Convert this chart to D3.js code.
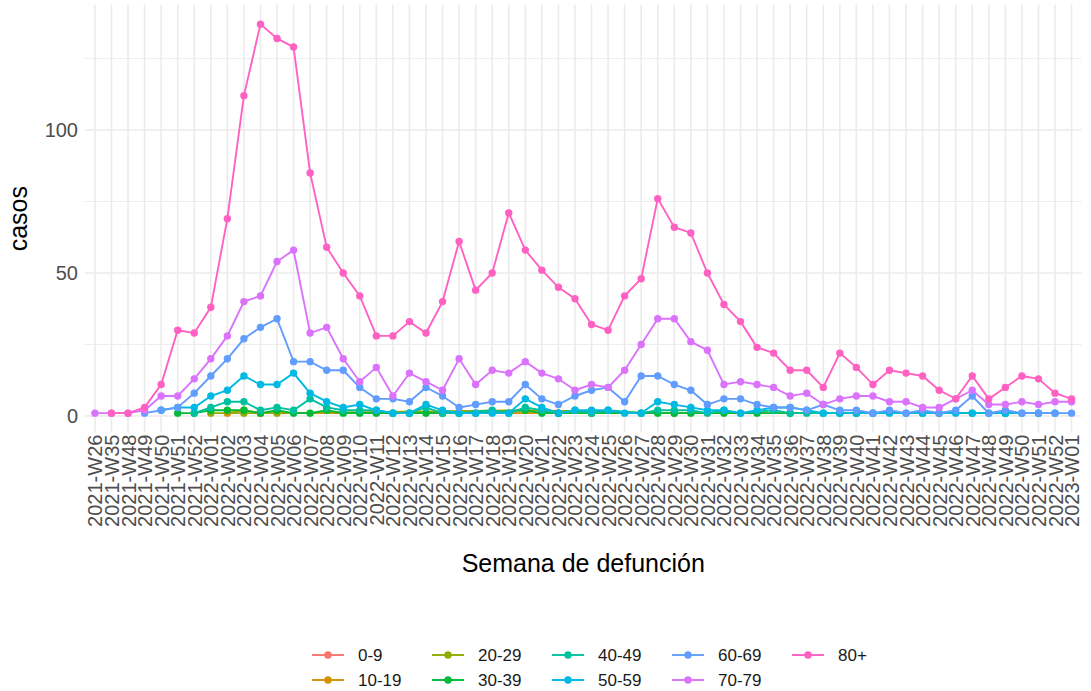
<!DOCTYPE html>
<html>
<head>
<meta charset="utf-8">
<script src="https://cdn.jsdelivr.net/npm/d3@7"></script>
<style>
body { margin: 0; background: #fff; }
svg { display: block; font-family: "Liberation Sans", Arial, sans-serif; }
</style>
</head>
<body>
<script>

// semanas (eje x)
var semanas = ["2021-W26","2021-W35","2021-W48","2021-W49","2021-W50","2021-W51","2021-W52",
	"2022-W01","2022-W02","2022-W03","2022-W04","2022-W05","2022-W06","2022-W07","2022-W08","2022-W09","2022-W10",
	"2022-W11","2022-W12","2022-W13","2022-W14","2022-W15","2022-W16","2022-W17","2022-W18","2022-W19","2022-W20",
	"2022-W21","2022-W22","2022-W23","2022-W24","2022-W25","2022-W26","2022-W27","2022-W28","2022-W29","2022-W30",
	"2022-W31","2022-W32","2022-W33","2022-W34","2022-W35","2022-W36","2022-W37","2022-W38","2022-W39","2022-W40",
	"2022-W41","2022-W42","2022-W43","2022-W44","2022-W45","2022-W46","2022-W47","2022-W48","2022-W49","2022-W50",
	"2022-W51","2022-W52","2023-W01"];

var grupos = ["0-9","10-19","20-29","30-39","40-49","50-59","60-69","70-79","80+"];
var colores = ["#F8766D","#D39200","#93AA00","#00BA38","#00C19F","#00B9E3","#619CFF","#DB72FB","#FF61C3"];

var yTicks = [0, 50, 100];
var yMinor = [25, 75, 125];

// casos por semana (null = sin dato)
var n = null;
var c0_9   = [n,n,n,n,n,n,n,n,n,n, 1,n,n,n,n,n,n,n,n,n, n,n,n,n,n,n,n,n,1,n, n,n,n,n,n,n,n,n,n,n, n,n,n,n,n,n,n,n,n,n, n,n,n,n,n,n,n,n,n,n];
var c10_19 = [n,n,n,n,n,n,n,n,1,2, 1,n,n,n,n,n,n,n,n,n, n,n,n,n,n,n,n,n,n,n, n,n,n,n,n,n,n,n,n,n, n,n,n,n,n,n,1,n,n,n, n,n,n,n,n,n,n,n,n,n];
var c20_29 = [n,n,n,n,n,n,n,1,n,1, n,1,n,n,n,n,n,n,n,n, n,n,n,n,n,n,2,n,n,n, n,n,n,n,n,1,n,n,n,n, n,n,n,n,n,n,n,n,n,n, n,n,n,n,n,n,n,n,n,n];
var c30_39 = [n,n,n,n,n,1,1,2,2,2, 1,2,1,1,2,1,1,1,1,1, 1,1,1,1,n,n,2,1,1,n, 1,n,n,1,1,1,1,n,1,n, 1,n,1,n,n,1,n,n,n,n, n,1,n,n,n,1,n,n,n,n];
var c40_49 = [n,n,n,n,n,n,1,3,5,5, 2,3,2,6,3,2,2,2,1,1, 3,1,1,n,2,1,3,2,1,2, 1,2,n,1,2,2,2,1,2,1, n,2,1,1,1,n,1,1,n,n, 1,n,n,1,n,1,n,1,n,n];
var c50_59 = [n,n,n,n,2,3,3,7,9,14, 11,11,15,8,5,3,4,2,1,1, 4,2,1,1,1,1,6,3,1,2, 2,2,1,1,5,4,3,2,2,1, 2,3,3,2,1,1,1,1,1,1, 1,1,1,1,1,1,1,1,1,n];
var c60_69 = [n,n,n,1,2,3,8,14,20,27, 31,34,19,19,16,16,10,6,6,5, 10,7,3,4,5,5,11,6,4,7, 9,10,5,14,14,11,9,4,6,6, 4,3,3,2,4,2,2,1,2,1, 2,1,2,7,1,2,1,1,1,1];
var c70_79 = [1,1,1,2,7,7,13,20,28,40, 42,54,58,29,31,20,12,17,7,15, 12,9,20,11,16,15,19,15,13,9, 11,10,16,25,34,34,26,23,11,12, 11,10,7,8,4,6,7,7,5,5, 3,3,6,9,4,4,5,4,5,5];
var c80    = [n,1,1,3,11,30,29,38,69,112, 137,132,129,85,59,50,42,28,28,33, 29,40,61,44,50,71,58,51,45,41, 32,30,42,48,76,66,64,50,39,33, 24,22,16,16,10,22,17,11,16,15, 14,9,6,14,6,10,14,13,8,6];

var valores = [c0_9, c10_19, c20_29, c30_39, c40_49, c50_59, c60_69, c70_79, c80];

window.onload = function() {
	Dibujar()
}

function Dibujar(){
	var W = 1091, H = 691;
	var left = 85, right = 1081.5, top = 4.7, bottom = 432.6;

	var series = grupos.map(function(g, k){
		var pts = [];
		valores[k].forEach(function(v, i){
			if (v !== null) pts.push({semana: semanas[i], casos: v});
		});
		return {grupo: g, color: colores[k], pts: pts};
	});

	var todos = [];
	valores.forEach(function(a){ a.forEach(function(v){ if (v !== null) todos.push(v) }) });
	var yMin = d3.min(todos), yMax = d3.max(todos);
	var pad = (yMax - yMin) * 0.05;

	var x = d3.scalePoint().domain(semanas).range([left, right]).padding(0.6);
	var y = d3.scaleLinear().domain([yMin - pad, yMax + pad]).range([bottom, top]);

	var svg = d3.select("body").append("svg")
		.attr("width", W)
		.attr("height", H);

	// rejilla
	var grid = svg.append("g");
	grid.selectAll("line.minor")
		.data(yMinor)
		.enter()
		.append("line")
		.attr("x1", left).attr("x2", right)
		.attr("y1", function(d){ return y(d) })
		.attr("y2", function(d){ return y(d) })
		.style("stroke", "#ebebeb")
		.style("stroke-width", 0.9);
	grid.selectAll("line.vx")
		.data(semanas)
		.enter()
		.append("line")
		.attr("x1", function(d){ return x(d) })
		.attr("x2", function(d){ return x(d) })
		.attr("y1", top).attr("y2", bottom)
		.style("stroke", "#ebebeb")
		.style("stroke-width", 1.6);
	grid.selectAll("line.major")
		.data(yTicks)
		.enter()
		.append("line")
		.attr("x1", left).attr("x2", right)
		.attr("y1", function(d){ return y(d) })
		.attr("y2", function(d){ return y(d) })
		.style("stroke", "#ebebeb")
		.style("stroke-width", 1.6);

	// ejes
	var ax = svg.append("g")
		.attr("transform", "translate(0," + bottom + ")")
		.call(d3.axisBottom(x).tickSize(0).tickPadding(0));
	ax.select(".domain").remove();
	ax.selectAll("text")
		.attr("transform", "rotate(-90)")
		.attr("x", -2)
		.attr("y", 0)
		.attr("dy", "0.35em")
		.style("text-anchor", "end")
		.style("font-size", "20px")
		.style("fill", "#4d4d4d")
		.style("font-family", "Liberation Sans, Arial, sans-serif");

	var ay = svg.append("g")
		.attr("transform", "translate(" + left + ",0)")
		.call(d3.axisLeft(y).tickValues(yTicks).tickSize(0).tickPadding(7));
	ay.select(".domain").remove();
	ay.selectAll("text")
		.style("font-size", "20px")
		.style("fill", "#4d4d4d")
		.style("font-family", "Liberation Sans, Arial, sans-serif");

	svg.append("text")
		.attr("x", (left + right) / 2)
		.attr("y", 572)
		.style("text-anchor", "middle")
		.style("font-size", "25px")
		.text("Semana de defunción");

	svg.append("text")
		.attr("transform", "translate(27," + ((top + bottom) / 2) + ") rotate(-90)")
		.style("text-anchor", "middle")
		.style("font-size", "25px")
		.text("casos");

	// lineas y puntos
	var linea = d3.line()
		.x(function(d){ return x(d.semana) })
		.y(function(d){ return y(d.casos) });

	svg.append("g").selectAll("path")
		.data(series)
		.enter()
		.append("path")
		.attr("d", function(d){ return linea(d.pts) })
		.style("fill", "none")
		.style("stroke", function(d){ return d.color })
		.style("stroke-width", 1.9);

	var gp = svg.append("g").selectAll("g")
		.data(series)
		.enter()
		.append("g")
		.style("fill", function(d){ return d.color });
	gp.selectAll("circle")
		.data(function(d){ return d.pts })
		.enter()
		.append("circle")
		.attr("cx", function(d){ return x(d.semana) })
		.attr("cy", function(d){ return y(d.casos) })
		.attr("r", 3.7);

	// leyenda
	var paso = 120, x0 = 328, fila0 = 655, filaPaso = 25;
	var ley = svg.append("g").selectAll("g")
		.data(grupos)
		.enter()
		.append("g")
		.attr("transform", function(d, i){
			var col = Math.floor(i / 2), fila = i % 2;
			return "translate(" + (x0 + col * paso) + "," + (fila0 + fila * filaPaso) + ")";
		});
	ley.append("line")
		.attr("x1", -16).attr("x2", 16)
		.attr("y1", 0).attr("y2", 0)
		.style("stroke", function(d, i){ return colores[i] })
		.style("stroke-width", 1.9);
	ley.append("circle")
		.attr("r", 3.7)
		.style("fill", function(d, i){ return colores[i] });
	ley.append("text")
		.attr("x", 30)
		.attr("dy", "0.35em")
		.style("font-size", "17px")
		.style("fill", "#1a1a1a")
		.text(function(d){ return d });
}
</script>
</body>
</html>
